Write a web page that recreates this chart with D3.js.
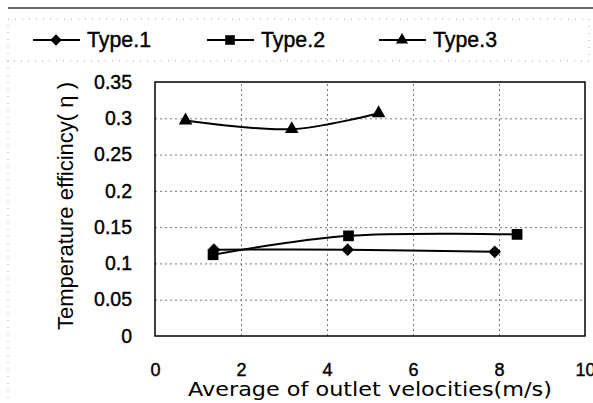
<!DOCTYPE html>
<html>
<head>
<meta charset="utf-8">
<script src="https://cdn.jsdelivr.net/npm/d3@7"></script>
<style>
  body { margin: 0; background: #fff; }
  svg { display: block; }
  .grid line { stroke: #777; stroke-dasharray: 2,3; stroke-width: 1; }
</style>
</head>
<body>
<div id="chart"></div>
<script>
// Series
var type1X = [1.37, 4.48, 7.9];
var type1Y = [0.119, 0.119, 0.116];
var type2X = [1.35, 4.5, 8.42];
var type2Y = [0.112, 0.138, 0.140];
var type3X = [0.71, 3.18, 5.2];
var type3Y = [0.297, 0.285, 0.307];

var seriesNames = ["Type.1", "Type.2", "Type.3"];
var xTicks = [0, 2, 4, 6, 8, 10];
var yTicks = [0, 0.05, 0.1, 0.15, 0.2, 0.25, 0.3, 0.35];

var W = 593, H = 403;
var margin = { top: 82, right: 8, bottom: 67, left: 155 },
  width = W - margin.left - margin.right,
  height = H - margin.top - margin.bottom;

var FONT = "Liberation Sans, Arial, sans-serif";

var svg = d3.select("#chart")
  .append("svg")
  .attr("width", W)
  .attr("height", H);

// scan-like border pieces
svg.append("line")
  .attr("x1", 8).attr("x2", W).attr("y1", 8).attr("y2", 8)
  .attr("stroke", "#333").attr("stroke-width", 1.5);
svg.append("rect")
  .attr("x", 8).attr("y", 19).attr("width", W - 12).attr("height", 42)
  .attr("fill", "none").attr("stroke", "#aaa").attr("stroke-dasharray", "1,6");
svg.append("line")
  .attr("x1", 8).attr("x2", 8).attr("y1", 61).attr("y2", H)
  .attr("stroke", "#aaa").attr("stroke-dasharray", "1,6");

var g = svg.append("g")
  .attr("transform", "translate(" + margin.left + "," + margin.top + ")");

var x = d3.scaleLinear().domain([0, 10]).range([0, width]);
var y = d3.scaleLinear().domain([0, 0.35]).range([height, 0]);

// gridlines
g.append("g")
  .attr("class", "grid")
  .attr("transform", "translate(0," + height + ")")
  .call(d3.axisBottom(x).tickValues(xTicks.slice(1, -1)).tickSize(-height).tickFormat(""))
  .call(a => a.select(".domain").remove());
g.append("g")
  .attr("class", "grid")
  .call(d3.axisLeft(y).tickValues(yTicks.slice(1, -1)).tickSize(-width).tickFormat(""))
  .call(a => a.select(".domain").remove());

// plot frame
g.append("rect")
  .attr("width", width).attr("height", height)
  .attr("fill", "none").attr("stroke", "#000").attr("stroke-width", 1.5);

// tick labels
g.append("g")
  .attr("transform", "translate(0," + height + ")")
  .call(d3.axisBottom(x).tickValues(xTicks).tickSize(0).tickPadding(27).tickFormat(d3.format("d")))
  .call(a => a.select(".domain").remove())
  .selectAll("text")
  .attr("font-family", FONT)
  .attr("font-size", 18)
  .attr("stroke", "#000").attr("stroke-width", 0.4)
  .attr("fill", "#000");

g.append("g")
  .call(d3.axisLeft(y).tickValues(yTicks).tickSize(0).tickPadding(23)
    .tickFormat(d => d === 0 ? "0" : String(+d.toFixed(2))))
  .call(a => a.select(".domain").remove())
  .selectAll("text")
  .attr("font-family", FONT)
  .attr("font-size", 19.5)
  .attr("stroke", "#000").attr("stroke-width", 0.4)
  .attr("fill", "#000");

// axis titles
svg.append("text")
  .attr("transform", "translate(73,206) rotate(-90)")
  .attr("text-anchor", "middle")
  .attr("font-family", FONT)
  .attr("font-size", 22)
  .attr("textLength", 248)
  .attr("lengthAdjust", "spacingAndGlyphs")
  .text("Temperature efficincy( \u03b7 )");

svg.append("text")
  .attr("x", 188).attr("y", 396)
  .attr("font-family", "DejaVu Sans, sans-serif")
  .attr("font-size", 19)
  .attr("textLength", 364)
  .attr("lengthAdjust", "spacingAndGlyphs")
  .text("Average of outlet velocities(m/s)");

// markers: rotated square as diamond
var diamond = {
  draw: function (ctx, size) {
    var r = Math.sqrt(size / 2);
    ctx.moveTo(0, -r); ctx.lineTo(r, 0); ctx.lineTo(0, r); ctx.lineTo(-r, 0); ctx.closePath();
  }
};

var series = [
  { name: seriesNames[0], xs: type1X, ys: type1Y, sym: diamond, size: 80 },
  { name: seriesNames[1], xs: type2X, ys: type2Y, sym: d3.symbolSquare, size: 115 },
  { name: seriesNames[2], xs: type3X, ys: type3Y, sym: d3.symbolTriangle, size: 80 }
];

var line = d3.line()
  .x(d => x(d[0]))
  .y(d => y(d[1]))
  .curve(d3.curveCatmullRom.alpha(0.5));

series.forEach(function (s) {
  var pts = s.xs.map((v, i) => [v, s.ys[i]]);
  g.append("path")
    .datum(pts)
    .attr("d", line)
    .attr("fill", "none")
    .attr("stroke", "#000")
    .attr("stroke-width", 2);
  g.selectAll(null)
    .data(pts)
    .enter()
    .append("path")
    .attr("d", d3.symbol().type(s.sym).size(s.size))
    .attr("transform", d => "translate(" + x(d[0]) + "," + y(d[1]) + ")")
    .attr("fill", "#000");
});

// legend
var legendX = [33, 207, 379];
var legend = svg.append("g");
series.forEach(function (s, i) {
  var lx = legendX[i];
  legend.append("line")
    .attr("x1", lx).attr("x2", lx + 47).attr("y1", 40).attr("y2", 40)
    .attr("stroke", "#000").attr("stroke-width", 2);
  legend.append("path")
    .attr("d", d3.symbol().type(s.sym).size(s.size * 0.8))
    .attr("transform", "translate(" + (lx + 23) + ",40)")
    .attr("fill", "#000");
  legend.append("text")
    .attr("x", lx + 54).attr("y", 47)
    .attr("font-family", FONT)
    .attr("font-size", 22)
    .attr("textLength", 64)
    .attr("lengthAdjust", "spacingAndGlyphs")
    .attr("stroke", "#000").attr("stroke-width", 0.4)
    .text(s.name);
});
</script>
</body>
</html>
